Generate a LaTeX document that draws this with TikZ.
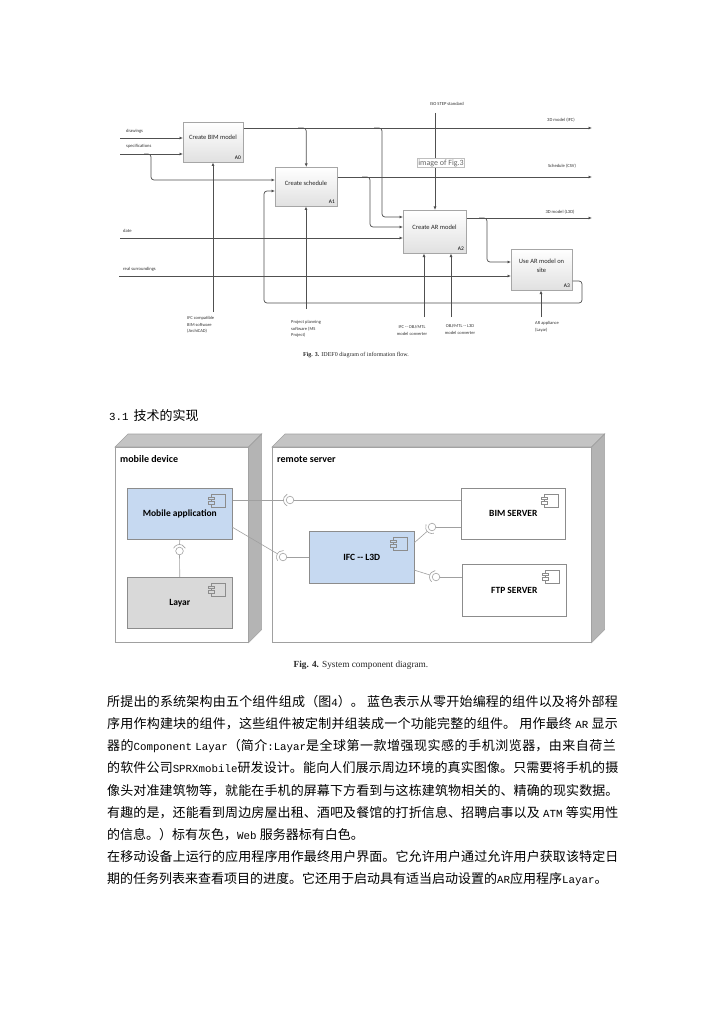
\documentclass[tikz,border=0pt]{standalone}
\usepackage{fontspec}
\setmainfont{Liberation Serif}
\newfontfamily\cjk{Noto Sans CJK SC}
\newfontfamily\carl{Carlito}
\newfontfamily\mono{Liberation Mono}
\usetikzlibrary{arrows.meta,calc,shadows}
\definecolor{lineg}{HTML}{505050}
\definecolor{boxb}{HTML}{A6A6A6}
\definecolor{compblue}{HTML}{C6D9F1}
\definecolor{compgray}{HTML}{D9D9D9}
\definecolor{nodeline}{HTML}{A0A0A0}
\definecolor{topg}{HTML}{C4C4C4}
\definecolor{sideg}{HTML}{B4B4B4}
\definecolor{connc}{HTML}{A0A0A0}
\definecolor{compline}{HTML}{8C8C8C}
\newcommand\latn[1]{{\mono\fontsize{10.8}{22.2}\selectfont #1}}
\newcommand\iface[4]{%
  \coordinate (#1) at (#2);
  \draw[conn] (#1) circle[radius=3.8];
  \draw[conn] ($(#1)+({#3-65}:6.5)$) arc[start angle={#3-65}, end angle={#3+65}, radius=6.5];
  \coordinate (#1s) at ($(#1)+(#3:6.5)$);
  \coordinate (#1b) at ($(#1)+(#4:3.8)$);
}
\tikzset{
  idbox/.style={draw=boxb, line width=0.5pt, top color=white, bottom color=black!12, anchor=north west, inner sep=0pt,
     drop shadow={shadow xshift=1pt, shadow yshift=-1pt, opacity=0.25, fill=black}},
  idtxt/.style={font=\carl\fontsize{6.5}{9}\selectfont, text=black!85, align=center, inner sep=0pt},
  idnum/.style={font=\carl\fontsize{5.5}{6}\selectfont, anchor=south east, inner sep=0pt},
  flow/.style={draw=lineg, line width=0.7pt, rounded corners=3pt, -{Latex[length=3.5pt,width=3pt]}},
  flowlbl/.style={font=\carl\fontsize{4.6}{5.5}\selectfont, text=black!80, inner sep=0pt},
  mechlbl/.style={font=\carl\fontsize{4.5}{6.8}\selectfont, text=black!80, inner sep=0pt, anchor=north},
  comp/.style={draw=compline, line width=0.6pt, anchor=north west, inner sep=0pt, font=\carl\bfseries\fontsize{9.5}{11}\selectfont},
  dnode/.style={draw=nodeline, fill=white, line width=0.6pt, anchor=north west, inner sep=0pt},
  dlabel/.style={anchor=base west, inner sep=0pt, font=\carl\bfseries\fontsize{10}{12}\selectfont},
  conn/.style={draw=connc, line width=0.6pt},
  pics/compicon/.style={code={
    \draw[draw=compline, line width=0.5pt] (-14,0) rectangle (0,13);
    \draw[draw=compline, line width=0.5pt, fill=#1] (-17,3) rectangle (-11,5.5);
    \draw[draw=compline, line width=0.5pt, fill=#1] (-17,7.5) rectangle (-11,10);
  }},
}
\begin{document}
\begin{tikzpicture}[x=1pt,y=-1pt]
\fill[white] (0,0) rectangle (724,1024);
\useasboundingbox (0,0) rectangle (724,1024);

% ---------------- IDEF0 diagram ----------------
\node[idbox, minimum width=60, minimum height=40] (A0) at (183,122) {};
\node[idbox, minimum width=62, minimum height=39] (A1) at (275,167) {};
\node[idbox, minimum width=63, minimum height=43] (A2) at (403,210) {};
\node[idbox, minimum width=61, minimum height=41] (A3) at (511,249) {};
\node[idtxt] (t0) at (213,137.5) {Create BIM model};
\node[idtxt] (t1) at (306,183) {Create schedule};
\node[idtxt] (t2) at (434.5,227.5) {Create AR model};
\node[idtxt] (t3) at (541.5,265.5) {Use AR model on\\site};
\node[idnum] (n0) at ($(A0.south east)+(-2.5,-2.5)$) {A0};
\node[idnum] (n1) at ($(A1.south east)+(-2.5,-2.5)$) {A1};
\node[idnum] (n2) at ($(A2.south east)+(-2.5,-2.5)$) {A2};
\node[idnum] (n3) at ($(A3.south east)+(-2.5,-2.5)$) {A3};

\coordinate (inDraw) at (120,138);
\coordinate (inSpec) at (120,154);
\coordinate (inDate) at (120,238);
\coordinate (inReal) at (119,276);
\coordinate (outIFC) at (592,128);
\coordinate (outCSV) at (592,177);
\coordinate (outL3D) at (592,218);
\coordinate (ctlISO) at (435,113);
\coordinate (m0) at (213,312);
\coordinate (m1) at (306,309);
\coordinate (m2a) at (424,317);
\coordinate (m2b) at (451,317);
\coordinate (m3) at (541,317);
\coordinate (k1) at (151,180);
\coordinate (k2) at (382,217);
\coordinate (k3) at (370,227);
\coordinate (k4) at (487,262);
\coordinate (k5) at (582,281);
\coordinate (k6) at (264,191);
\coordinate (k7) at (582,303);
\coordinate (k8) at (264,303);

\draw[flow] (inDraw) -- (inDraw -| A0.west);
\draw[flow] (inSpec) -- (inSpec -| A0.west);
\draw[flow] (144,154) -- (k1 |- inSpec) -- (k1) -- (k1 -| A1.west);
\draw[flow] (inDate) -- (inDate -| A2.west);
\draw[flow] (inReal) -- (inReal -| A3.west);
\draw[flow] (A0.east |- outIFC) -- (outIFC);
\draw[flow] (298,128) -- (A1.north |- outIFC) -- (A1.north);
\draw[flow] (374,128) -- (k2 |- outIFC) -- (k2) -- (k2 -| A2.west);
\draw[flow] (A1.east |- outCSV) -- (outCSV);
\draw[flow] (362,177) -- (k3 |- outCSV) -- (k3) -- (k3 -| A2.west);
\draw[flow] (ctlISO) -- (ctlISO |- A2.north);
\draw[flow] (A2.east |- outL3D) -- (outL3D);
\draw[flow] (479,218) -- (k4 |- outL3D) -- (k4) -- (k4 -| A3.west);
\draw[flow] (A3.east |- k5) -- (k5) -- (k7) -- (k8) -- (k6) -- (k6 -| A1.west);
\draw[flow] (m0) -- (m0 |- A0.south);
\draw[flow] (m1) -- (m1 |- A1.south);
\draw[flow] (m2a) -- (m2a |- A2.south);
\draw[flow] (m2b) -- (m2b |- A2.south);
\draw[flow] (m3) -- (m3 |- A3.south);

\node[draw=black!25, fill=white, inner sep=0.9pt, font=\carl\fontsize{8}{9}\selectfont, text=black!60] (img) at (441,163) {image of Fig.3};

\node[flowlbl, anchor=base west] (l1) at (126,133) {drawings};
\node[flowlbl, anchor=base west] (l2) at (126,148) {specifications};
\node[flowlbl, anchor=base west] (l3) at (123,233) {date};
\node[flowlbl, anchor=base west] (l4) at (123,270) {real surroundings};
\node[flowlbl, anchor=base] (l5) at (561,122) {3D model (IFC)};
\node[flowlbl, anchor=base] (l6) at (562,168) {Schedule (CSV)};
\node[flowlbl, anchor=base] (l7) at (560,214) {3D model (L3D)};
\node[flowlbl, anchor=base] (l8) at (447,106) {ISO STEP standard};
\node[mechlbl, anchor=north west, align=left] (l9) at (187,316) {IFC compatible\\BIM software\\(ArchiCAD)};
\node[mechlbl, anchor=north west, align=left] (l10) at (291,320) {Project planning\\software (MS\\Project)};
\node[mechlbl, align=center] (l11) at (412,325) {IFC -- OBJ/MTL\\model converter};
\node[mechlbl, align=center] (l12) at (460,324) {OBJ/MTL -- L3D\\model converter};
\node[mechlbl, anchor=north west, align=left] (l13) at (535,321) {AR appliance\\(Layar)};

\node[font=\fontsize{6}{7}\selectfont, text=black!85] (cap3) at (356,355) {\textbf{Fig. 3.} IDEF0 diagram of information flow.};

% ---------------- heading ----------------
\node[anchor=west, inner sep=0pt, font=\cjk\fontsize{13}{15}\selectfont] (head) at (109,416) {\latn{3.1}\hspace{5pt}技术的实现};

% ---------------- component diagram ----------------
\node[dnode, minimum width=133, minimum height=195] (MD) at (115,447) {};
\filldraw[draw=nodeline, fill=topg, line width=0.6pt] (MD.north west) -- ++(13,-13) -- ($(MD.north east)+(13,-13)$) -- (MD.north east) -- cycle;
\filldraw[draw=nodeline, fill=sideg, line width=0.6pt] (MD.north east) -- ++(13,-13) -- ($(MD.south east)+(13,-13)$) -- (MD.south east) -- cycle;
\node[dnode, minimum width=319, minimum height=195] (RS) at (272,447) {};
\filldraw[draw=nodeline, fill=topg, line width=0.6pt] (RS.north west) -- ++(13,-13) -- ($(RS.north east)+(13,-13)$) -- (RS.north east) -- cycle;
\filldraw[draw=nodeline, fill=sideg, line width=0.6pt] (RS.north east) -- ++(13,-13) -- ($(RS.south east)+(13,-13)$) -- (RS.south east) -- cycle;
\node[dlabel] (mdl) at (120,462) {mobile device};
\node[dlabel] (rsl) at (277,462) {remote server};

\node[comp, fill=compblue, minimum width=105, minimum height=51] (MA) at (127,488) {Mobile application};
\node[comp, fill=compgray, minimum width=105, minimum height=51] (LY) at (127,577) {Layar};
\node[comp, fill=white, minimum width=104, minimum height=51] (BIM) at (461,488) {BIM SERVER};
\node[comp, fill=white, minimum width=104, minimum height=52] (FTP) at (462,564) {FTP SERVER};
\node[comp, fill=compblue, minimum width=105, minimum height=52] (IFC) at (309,531) {IFC -- L3D};
\pic at ($(MA.north east)+(-7,6)$) {compicon=compblue};
\pic at ($(LY.north east)+(-7,6)$) {compicon=compgray};
\pic at ($(BIM.north east)+(-7,6)$) {compicon=white};
\pic at ($(FTP.north east)+(-7,6)$) {compicon=white};
\pic at ($(IFC.north east)+(-7,6)$) {compicon=compblue};

\iface{i1}{290,500}{180}{0}
\iface{i2}{179.5,551}{270}{90}
\iface{i3}{283,557}{210}{0}
\iface{i4}{432,527}{138}{0}
\iface{i5}{436,577}{198}{0}
\coordinate (c3) at (232,527);
\coordinate (c4) at (414,543);
\coordinate (c5) at (414,570);
\draw[conn] (MA.east |- i1) -- (i1s);
\draw[conn] (i1b) -- (BIM.west |- i1);
\draw[conn] (MA.south) -- (i2s);
\draw[conn] (i2b) -- (LY.north);
\draw[conn] (c3) -- (i3s);
\draw[conn] (i3b) -- (IFC.west |- i3);
\draw[conn] (c4) -- (i4s);
\draw[conn] (i4b) -- (BIM.west |- i4);
\draw[conn] (c5) -- (i5s);
\draw[conn] (i5b) -- (FTP.west |- i5);

\node[font=\fontsize{9.3}{11}\selectfont, text=black!85] (cap4) at (361,665) {\textbf{Fig. 4.} System component diagram.};

% ---------------- paragraph ----------------
\node[anchor=north west, inner sep=0pt, text width=512pt] (para) at (107,695) {%
\cjk\fontsize{13}{22.2}\selectfont
\XeTeXlinebreaklocale "zh"\XeTeXlinebreakskip=0pt plus 3pt
\parindent=0pt\tolerance=10000\hbadness=10000
所提出的系统架构由五个组件组成（图\latn{4}）。 蓝色表示从零开始编程的组件以及将外部程\linebreak
序用作构建块的组件，这些组件被定制并组装成一个功能完整的组件。 用作最终 \latn{AR} 显示\linebreak
器的\latn{Component Layar}（简介\latn{:Layar}是全球第一款增强现实感的手机浏览器，由来自荷兰\linebreak
的软件公司\latn{SPRXmobile}研发设计。能向人们展示周边环境的真实图像。只需要将手机的摄\linebreak
像头对准建筑物等，就能在手机的屏幕下方看到与这栋建筑物相关的、精确的现实数据。\linebreak
有趣的是，还能看到周边房屋出租、酒吧及餐馆的打折信息、招聘启事以及 \latn{ATM} 等实用性\linebreak
的信息。）标有灰色，\latn{Web} 服务器标有白色。\par
在移动设备上运行的应用程序用作最终用户界面。它允许用户通过允许用户获取该特定日\linebreak
期的任务列表来查看项目的进度。它还用于启动具有适当启动设置的\latn{AR}应用程序\latn{Layar}。\par};
\end{tikzpicture}
\end{document}
